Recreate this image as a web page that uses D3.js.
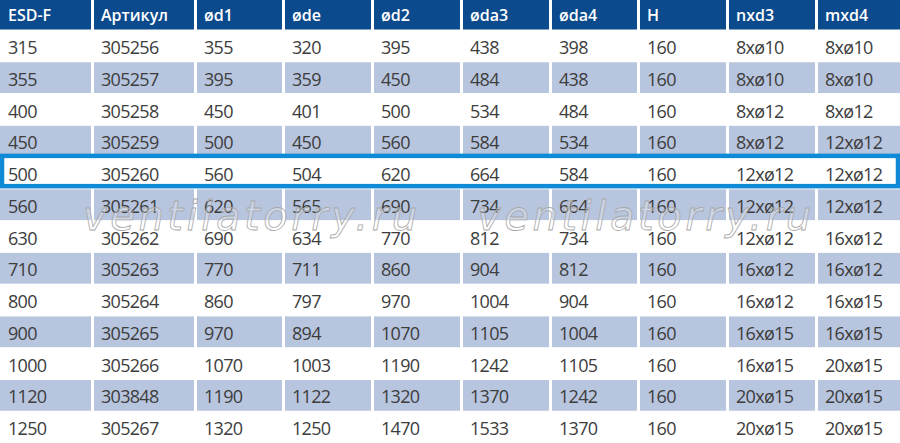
<!DOCTYPE html>
<html>
<head>
<meta charset="utf-8">
<script src="https://cdn.jsdelivr.net/npm/d3@7"></script>
<style>
html,body{margin:0;padding:0;background:#fff;}
svg{display:block;}
</style>
</head>
<body>
<svg id="chart" width="900" height="443"></svg>
<script>
// ---- data ----
const headers = ["ESD-F", "Артикул", "ød1", "øde", "ød2", "øda3", "øda4", "H", "nxd3", "mxd4"];
const esdF = [315, 355, 400, 450, 500, 560, 630, 710, 800, 900, 1000, 1120, 1250];
const articul = [305256, 305257, 305258, 305259, 305260, 305261, 305262, 305263, 305264, 305265, 305266, 303848, 305267];
const d1 = [355, 395, 450, 500, 560, 620, 690, 770, 860, 970, 1070, 1190, 1320];
const de = [320, 359, 401, 450, 504, 565, 634, 711, 797, 894, 1003, 1122, 1250];
const d2 = [395, 450, 500, 560, 620, 690, 770, 860, 970, 1070, 1190, 1320, 1470];
const da3 = [438, 484, 534, 584, 664, 734, 812, 904, 1004, 1105, 1242, 1370, 1533];
const da4 = [398, 438, 484, 534, 584, 664, 734, 812, 904, 1004, 1105, 1242, 1370];
const hVals = [160, 160, 160, 160, 160, 160, 160, 160, 160, 160, 160, 160, 160];
const nxd3 = ["8xø10", "8xø10", "8xø12", "8xø12", "12xø12", "12xø12", "12xø12", "16xø12", "16xø12", "16xø15", "16xø15", "20xø15", "20xø15"];
const mxd4 = ["8xø10", "8xø10", "8xø12", "12xø12", "12xø12", "12xø12", "16xø12", "16xø12", "16xø15", "16xø15", "20xø15", "20xø15", "20xø15"];
const highlightedRow = 500;
const watermark = "ventilatorry.ru";

// ---- layout ----
const W = 900, H = 443;
const colWidths = [94, 103, 88, 89, 89, 89, 88, 89, 89, 82];
const gap = 3;
const headerH = 30;
const colors = {header: "#0b4a8c", shade: "#b8c5de", text: "#3d3d3d", border: "#0e8ad6"};

const columns = [esdF, articul, d1, de, d2, da3, da4, hVals, nxd3, mxd4];
const nRows = esdF.length;
const lefts = [0];
colWidths.forEach((w, i) => lefts.push(lefts[i] + w));

const x = d3.scaleOrdinal().domain(d3.range(columns.length)).range(lefts.slice(0, -1));
const cw = i => (i === columns.length - 1 ? W - lefts[i] : colWidths[i] - gap);
const y = d3.scaleBand().domain(d3.range(nRows)).range([headerH, H]).paddingInner(0);

const svg = d3.select("#chart");
svg.append("rect").attr("width", W).attr("height", H).attr("fill", "#fff");

// header
const hg = svg.append("g");
hg.selectAll("rect").data(headers).join("rect")
  .attr("x", (d, i) => x(i)).attr("y", 0)
  .attr("width", (d, i) => cw(i)).attr("height", headerH - 0.5)
  .attr("fill", colors.header);
hg.selectAll("text").data(headers).join("text")
  .attr("x", (d, i) => x(i) + (i === 0 ? 8 : 7)).attr("y", 20.5)
  .attr("fill", "#fff")
  .attr("font-family", "'Open Sans', 'Noto Sans', sans-serif")
  .attr("font-weight", 600)
  .attr("font-size", "16px")
  .text(d => d);

// body
const rows = svg.append("g").selectAll("g").data(d3.range(nRows)).join("g")
  .attr("transform", r => `translate(0,${y(r)})`);

rows.each(function (r) {
  const g = d3.select(this);
  if (r % 2 === 1) {
    g.selectAll("rect").data(columns).join("rect")
      .attr("x", (d, i) => x(i)).attr("y", 0.5)
      .attr("width", (d, i) => cw(i)).attr("height", y.bandwidth() - 1)
      .attr("fill", colors.shade);
  }
  g.selectAll("text").data(columns).join("text")
    .attr("x", (d, i) => x(i) + (i === 0 ? 8 : 7)).attr("y", 24)
    .attr("fill", colors.text)
    .attr("font-family", "'Open Sans', 'Noto Sans', sans-serif")
    .attr("font-size", "18px")
    .attr("letter-spacing", "-0.7px")
    .text(col => col[r]);
});

// highlight border
const hi = esdF.indexOf(highlightedRow);
svg.append("rect")
  .attr("x", 2).attr("y", y(hi) - 1.2)
  .attr("width", W - 4).attr("height", y.bandwidth() - 1.5)
  .attr("fill", "none")
  .attr("stroke", colors.border)
  .attr("stroke-width", 4.5);

// watermark
svg.append("g").selectAll("text").data([83, 477]).join("text")
  .attr("x", d => d).attr("y", 230)
  .attr("font-family", "'DejaVu Sans', 'Liberation Sans', sans-serif")
  .attr("font-style", "oblique")
  .attr("font-weight", 200)
  .attr("font-size", "40px")
  .attr("textLength", 334)
  .attr("lengthAdjust", "spacing")
  .attr("fill", "rgba(255,255,255,0.3)")
  .attr("stroke", "#a8a8a8")
  .attr("stroke-width", 0.8)
  .text(watermark);
</script>
</body>
</html>
